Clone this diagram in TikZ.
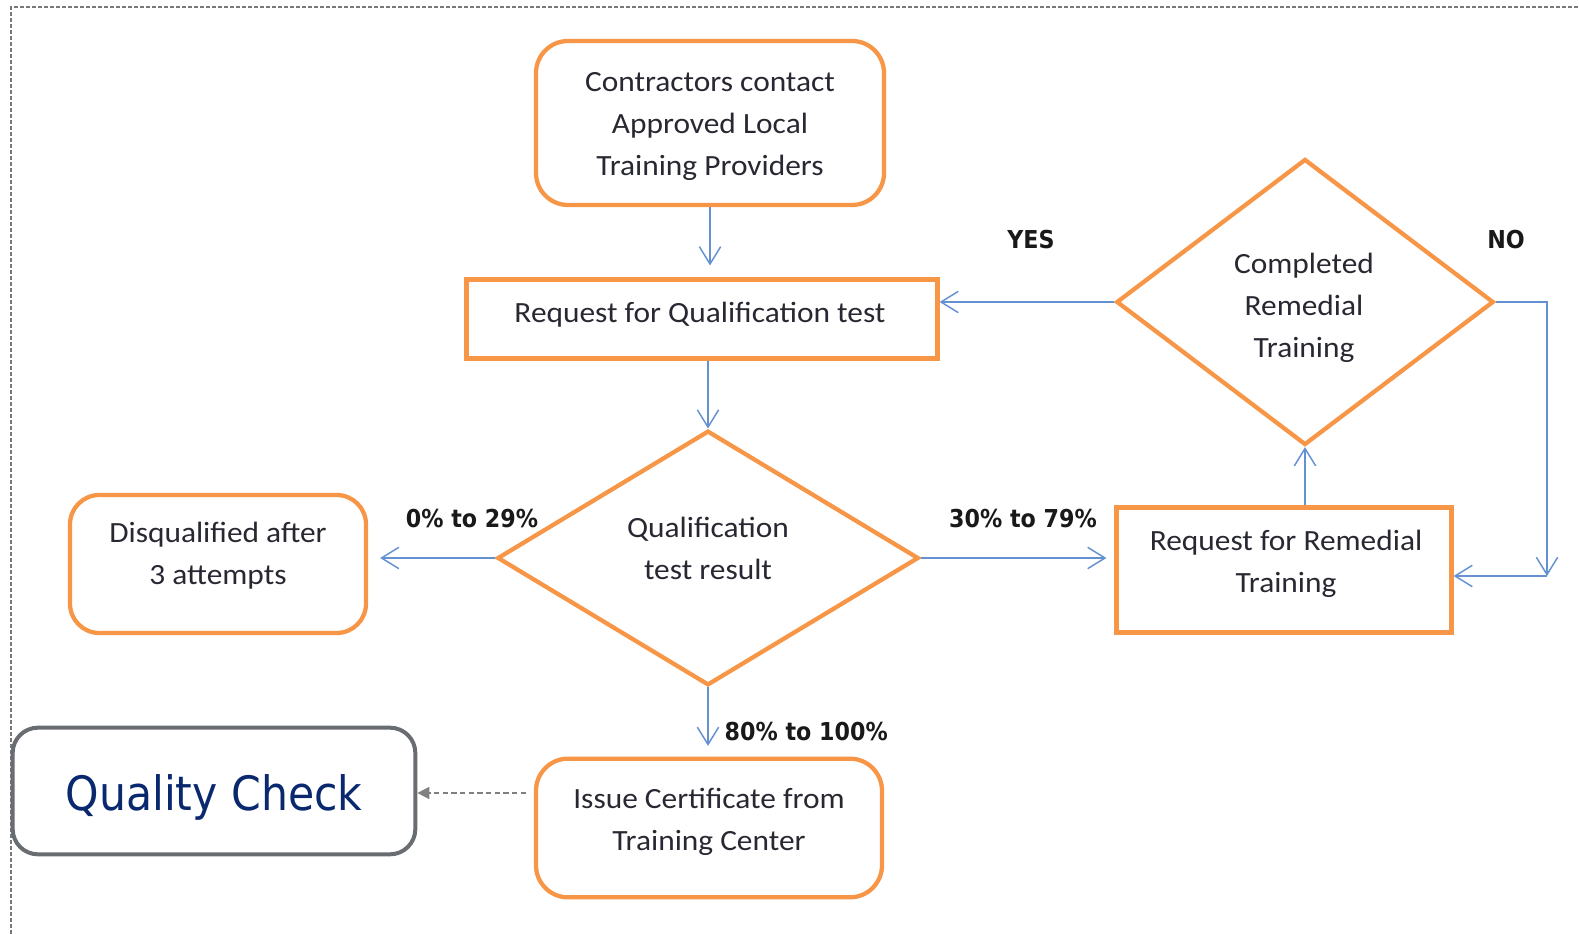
\documentclass[tikz,border=0pt]{standalone}
\usepackage{fontspec}
\setmainfont{Carlito}[FakeStretch=1.07]
\newfontfamily\labfont{DejaVu Sans}[FakeStretch=0.9]
\usetikzlibrary{arrows.meta,shapes.geometric}
\definecolor{orng}{RGB}{247,150,70}
\definecolor{bluearr}{RGB}{100,145,210}
\definecolor{qcgray}{RGB}{105,108,113}
\definecolor{framegray}{RGB}{120,120,120}
\definecolor{qcblue}{RGB}{10,40,110}
\definecolor{txtc}{RGB}{40,40,50}
\begin{document}
\begin{tikzpicture}[x=0.75pt,y=-0.75pt,
  rbox/.style={draw=orng,line width=3.2pt,rounded corners=24pt,inner sep=0pt},
  sbox/.style={draw=orng,line width=3.4pt,inner sep=0pt},
  dia/.style={draw=orng,line width=3.2pt,diamond,inner sep=0pt},
  txt/.style={text=txtc,align=center,font=\fontsize{22pt}{31.5pt}\selectfont},
  lab/.style={text=black!90,font=\labfont\bfseries\fontsize{18.5pt}{22pt}\selectfont},
  arr/.style={draw=bluearr,line width=1.1pt,-{Straight Barb[length=13pt,width=16pt]}},
  qarr/.style={draw=gray,line width=1.1pt,dashed,dash pattern=on 4pt off 2.5pt,-{Triangle[length=9pt,width=9pt]}}
]
\useasboundingbox (0,0) rectangle (1579,934);
% frame
\draw[framegray,line width=0.8pt,dash pattern=on 3pt off 1.5pt] (11,940) -- (11,7) -- (1585,7);

% nodes
\node[rbox,minimum width=261pt,minimum height=123pt] (b1) at (710,123) {};
\node[txt] (b1t) at (710,127) {Contractors contact\\Approved Local\\Training Providers};

\node[sbox,minimum width=353pt,minimum height=59pt] (b2) at (702,319) {};
\node[txt] (b2t) at (700,315) {Request for Qualification test};

\node[dia,minimum width=316pt,minimum height=191pt] (q) at (708,558) {};
\node[txt] (qt) at (708,548) {Qualification\\test result};

\node[rbox,rounded corners=22pt,minimum width=222pt,minimum height=103.5pt] (dq) at (218,564) {};
\node[txt] (dqt) at (218,556) {Disqualified after\\3 attempts};

\node[dia,minimum width=283pt,minimum height=214.5pt] (c) at (1305,302) {};
\node[txt] (ct) at (1304,308) {Completed\\Remedial\\Training};

\node[sbox,minimum width=251pt,minimum height=93.5pt] (rem) at (1284,570) {};
\node[txt] (remt) at (1286,564) {Request for Remedial\\Training};

\node[rbox,minimum width=259.5pt,minimum height=104pt] (iss) at (709,828) {};
\node[txt] (isst) at (709,822) {Issue Certificate from\\Training Center};

\node[draw=qcgray,line width=3pt,rounded corners=19pt,minimum width=302pt,minimum height=95pt,inner sep=0pt] (qc) at (214,791) {};
\node[text=qcblue,font=\labfont\fontsize{35.5pt}{40pt}\selectfont] (qct) at (214,797) {Quality Check};

% labels
\node[lab] (yes) at (1031,240) {YES};
\node[lab] (no) at (1506,240) {NO};
\node[lab] (l1) at (472,519) {0\% to 29\%};
\node[lab] (l2) at (1023,519) {30\% to 79\%};
\node[lab,anchor=west] (l3) at (720,732) {80\% to 100\%};

% connectors
\draw[arr,shorten >=9pt] (b1.south) -- (b1.south |- b2.north);
\draw[arr] (b2.south -| q.north) -- (q.north);
\draw[arr,shorten >=9pt] (q.west) -- (q.west -| dq.east);
\draw[arr,shorten >=6pt] (q.east) -- (q.east -| rem.west);
\draw[arr,shorten >=8pt] (q.south) -- (q.south |- iss.north);
\draw[arr] (c.south |- rem.north) -- (c.south);
\draw[arr] (c.west) -- (c.west -| b2.east);
\coordinate (k) at (1547,576);
\draw[arr] (c.east) -| (k);
\draw[arr] (k) -- (k -| rem.east);
\draw[qarr] ([xshift=-6pt]iss.west |- 0,793) -- (qc.east |- 0,793);
\end{tikzpicture}
\end{document}
